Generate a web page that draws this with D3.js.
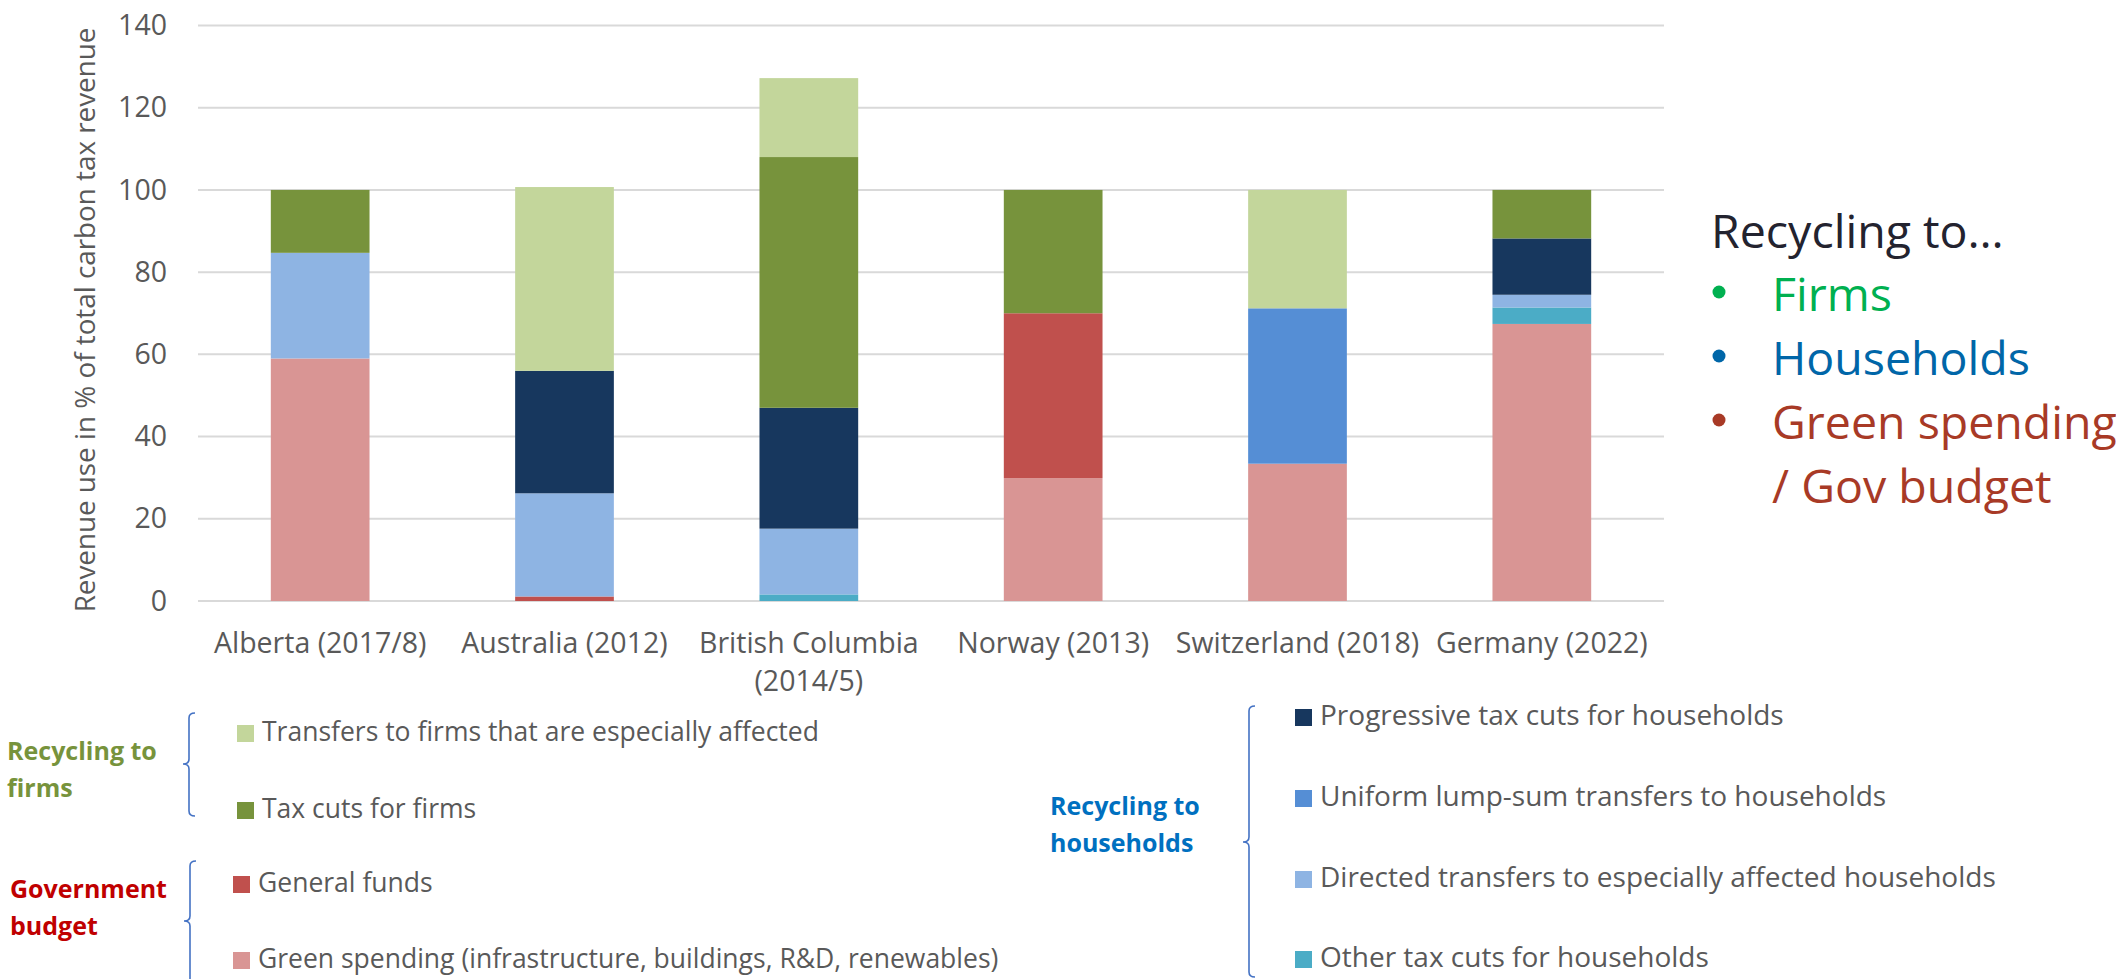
<!DOCTYPE html>
<html>
<head>
<meta charset="utf-8">
<script src="https://cdn.jsdelivr.net/npm/d3@7"></script>
<style>
  body { margin: 0; background: #fff; }
  svg { display: block; font-family: "Open Sans", sans-serif; }
</style>
</head>
<body>
<svg id="chart" width="2116" height="979"></svg>
<script>
// categories (x) and tick values
var categories = ['Alberta (2017/8)', 'Australia (2012)', 'British Columbia\n(2014/5)', 'Norway (2013)', 'Switzerland (2018)', 'Germany (2022)'];
var yTicks = [0, 20, 40, 60, 80, 100, 120, 140];

// series, bottom of the stack first (% of total carbon tax revenue)
var greenSpending      = [59.0, 0,    0,    29.9, 33.4, 67.4];
var generalFunds       = [0,    1.1,  0,    40.1, 0,    0];
var otherTaxCutsHh     = [0,    0,    1.6,  0,    0,    4.0];
var directedTransfers  = [25.7, 25.1, 16.0, 0,    0,    3.1];
var uniformLumpSum     = [0,    0,    0,    0,    37.8, 0];
var progressiveTaxCuts = [0,    29.8, 29.4, 0,    0,    13.7];
var taxCutsFirms       = [15.3, 0,    61.0, 30.0, 0,    11.8];
var transfersFirms     = [0,    44.7, 19.2, 0,    28.8, 0];

var seriesKeys = ['greenSpending', 'generalFunds', 'otherTaxCutsHh', 'directedTransfers',
                  'uniformLumpSum', 'progressiveTaxCuts', 'taxCutsFirms', 'transfersFirms'];
var seriesValues = [greenSpending, generalFunds, otherTaxCutsHh, directedTransfers,
                    uniformLumpSum, progressiveTaxCuts, taxCutsFirms, transfersFirms];
var seriesLabels = ['Green spending (infrastructure, buildings, R&D, renewables)', 'General funds',
                    'Other tax cuts for households', 'Directed transfers to especially affected households',
                    'Uniform lump-sum transfers to households', 'Progressive tax cuts for households',
                    'Tax cuts for firms', 'Transfers to firms that are especially affected'];
var seriesColors = ['#D99594', '#C0504D', '#4BACC6', '#8EB4E3', '#558ED5', '#17375E', '#77933C', '#C3D69B'];

var rows = categories.map(function (c, i) {
  var r = { cat: c };
  seriesKeys.forEach(function (k, j) { r[k] = seriesValues[j][i]; });
  return r;
});

var svg = d3.select('#chart');
var TXT = '#595959';

var x = d3.scaleBand().domain(categories).range([198, 1664]).paddingInner(0.596).paddingOuter(0.298);
var y = d3.scaleLinear().domain([0, 140]).range([601, 25.5]);
var color = d3.scaleOrdinal().domain(seriesKeys).range(seriesColors);

// gridlines
svg.append('g').selectAll('line').data(yTicks).enter().append('line')
  .attr('x1', 198).attr('x2', 1664)
  .attr('y1', function (d) { return y(d); }).attr('y2', function (d) { return y(d); })
  .attr('stroke', '#D9D9D9').attr('stroke-width', 2);

// y axis
var ya = svg.append('g').attr('transform', 'translate(198,0)')
  .call(d3.axisLeft(y).tickValues(yTicks).tickSize(0).tickPadding(31));
ya.select('.domain').remove();
ya.selectAll('text').attr('font-size', 28.5).attr('fill', TXT).attr('font-family', '"Open Sans", sans-serif');

svg.append('text')
  .attr('transform', 'translate(95,320) rotate(-90)')
  .attr('text-anchor', 'middle')
  .attr('font-size', 27.8).attr('fill', TXT)
  .text('Revenue use in % of total carbon tax revenue');

// stacked bars
var stack = d3.stack().keys(seriesKeys)(rows);
svg.append('g').selectAll('g').data(stack).enter().append('g')
  .attr('fill', function (d) { return color(d.key); })
  .selectAll('rect').data(function (d) { return d; }).enter().append('rect')
  .attr('x', function (d) { return x(d.data.cat); })
  .attr('width', x.bandwidth())
  .attr('y', function (d) { return y(d[1]); })
  .attr('height', function (d) { return y(d[0]) - y(d[1]); });

// x labels
var xl = svg.append('g').selectAll('text').data(categories).enter().append('text')
  .attr('text-anchor', 'middle').attr('font-size', 28.5).attr('fill', TXT)
  .attr('x', function (d) { return x(d) + x.bandwidth() / 2; })
  .attr('y', 653);
xl.selectAll('tspan').data(function (d) { return d.split('\n'); }).enter().append('tspan')
  .attr('x', function () { var c = d3.select(this.parentNode).datum(); return x(c) + x.bandwidth() / 2; })
  .attr('dy', function (d, i) { return i ? 38 : 0; })
  .text(function (d) { return d; });

// right-hand note
var note = svg.append('g').attr('font-size', 46.5);
note.append('text').attr('x', 1711).attr('y', 248).attr('fill', '#23232F').text('Recycling to\u2026');
var noteItems = [
  { t: 'Firms', c: '#00B050', y: 311 },
  { t: 'Households', c: '#0066A8', y: 375 },
  { t: 'Green spending', c: '#A83A26', y: 439 },
  { t: '/ Gov budget', c: '#A83A26', y: 503, noDot: true }
];
noteItems.forEach(function (n) {
  if (!n.noDot) note.append('circle').attr('cx', 1719).attr('cy', n.y - 19).attr('r', 6.5).attr('fill', n.c);
  note.append('text').attr('x', 1772).attr('y', n.y).attr('fill', n.c).text(n.t);
});

// braces
function brace(xb, y0, y1, ym) {
  var p = d3.path();
  p.moveTo(xb + 6, y0);
  p.quadraticCurveTo(xb, y0, xb, y0 + 5);
  p.lineTo(xb, ym - 5);
  p.quadraticCurveTo(xb, ym, xb - 6, ym);
  p.quadraticCurveTo(xb, ym, xb, ym + 5);
  p.lineTo(xb, y1 - 5);
  p.quadraticCurveTo(xb, y1, xb + 6, y1);
  svg.append('path').attr('d', p.toString()).attr('fill', 'none')
    .attr('stroke', '#4472C4').attr('stroke-width', 1.6);
}
brace(189, 713, 816, 764);
brace(190, 861, 990, 921);
brace(1249, 706, 977, 842);

// group titles
function groupTitle(lines, xt, yt, c) {
  var t = svg.append('text').attr('font-size', 25).attr('font-weight', 700).attr('fill', c);
  lines.forEach(function (l, i) {
    t.append('tspan').attr('x', xt).attr('y', yt + i * 37).text(l);
  });
}
groupTitle(['Recycling to', 'firms'], 7, 760, '#77933C');
groupTitle(['Government', 'budget'], 10, 898, '#C00000');
groupTitle(['Recycling to', 'households'], 1050, 815, '#0070C0');

// legend entries
var legendLayout = [
  { key: 'transfersFirms', sx: 237, cy: 733, fs: 26.5 },
  { key: 'taxCutsFirms', sx: 237, cy: 810, fs: 26.5 },
  { key: 'generalFunds', sx: 233, cy: 884, fs: 26.5 },
  { key: 'greenSpending', sx: 233, cy: 960, fs: 26.5 },
  { key: 'progressiveTaxCuts', sx: 1295, cy: 717, fs: 28 },
  { key: 'uniformLumpSum', sx: 1295, cy: 798, fs: 28 },
  { key: 'directedTransfers', sx: 1295, cy: 879, fs: 28 },
  { key: 'otherTaxCutsHh', sx: 1295, cy: 959, fs: 28 }
];
var lg = svg.append('g').selectAll('g').data(legendLayout).enter().append('g');
lg.append('rect').attr('x', function (d) { return d.sx; }).attr('y', function (d) { return d.cy - 8; })
  .attr('width', 17).attr('height', 17).attr('fill', function (d) { return color(d.key); });
lg.append('text').attr('x', function (d) { return d.sx + 25; }).attr('y', function (d) { return d.cy + 8; })
  .attr('font-size', function (d) { return d.fs; }).attr('fill', TXT)
  .text(function (d) { return seriesLabels[seriesKeys.indexOf(d.key)]; });
</script>
</body>
</html>
